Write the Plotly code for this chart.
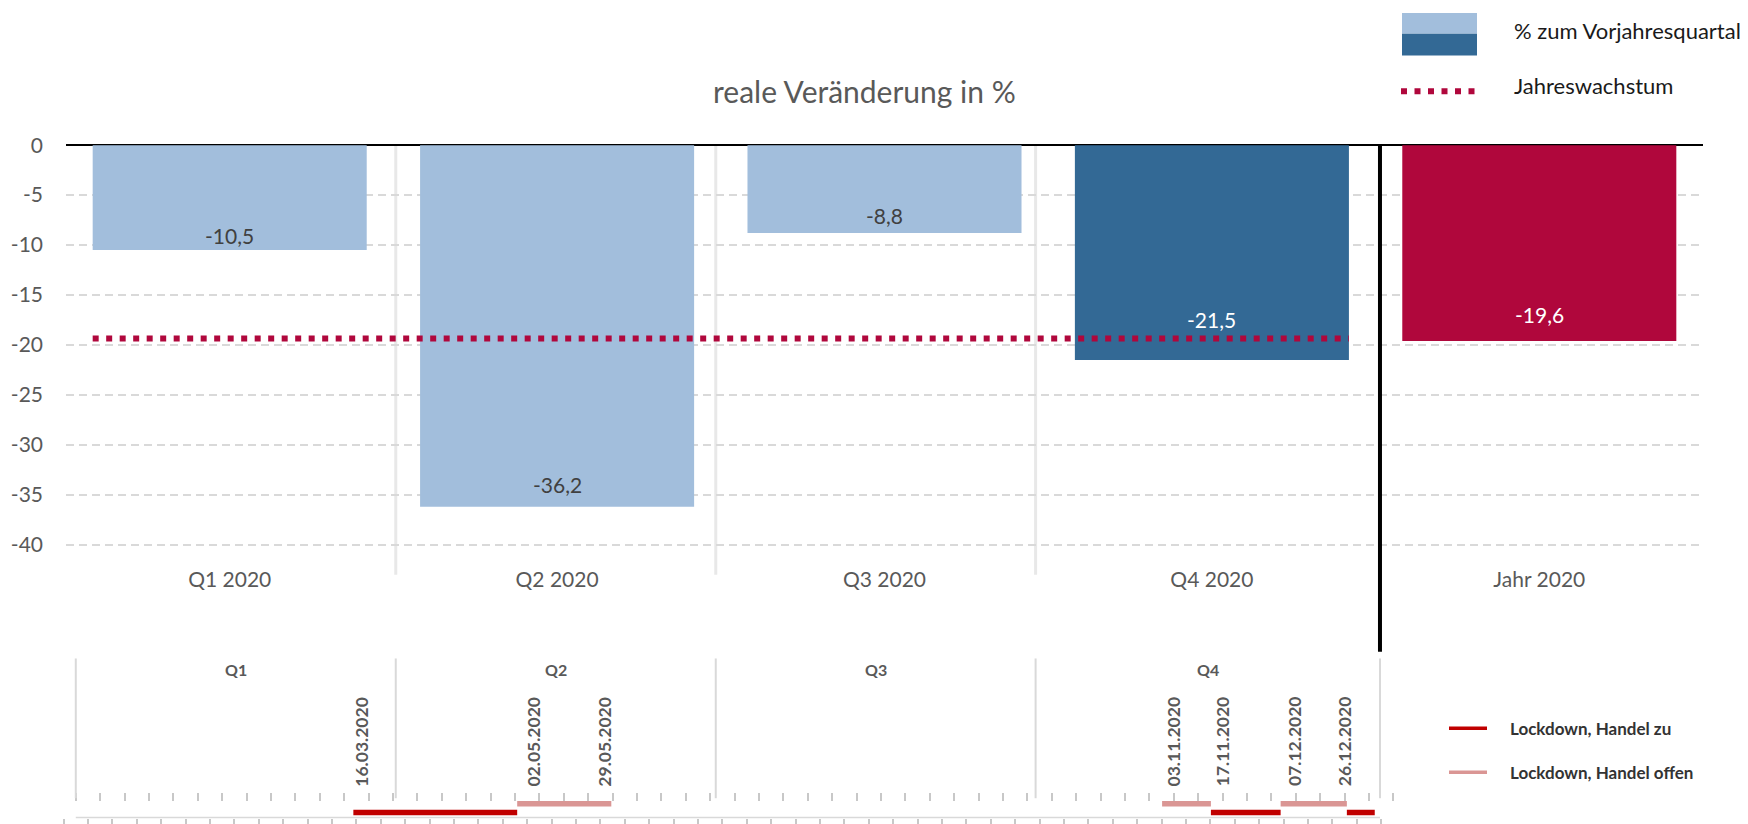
import plotly.graph_objects as go
from datetime import datetime, timedelta

# ---------------- data ----------------
categories = ["Q1 2020", "Q2 2020", "Q3 2020", "Q4 2020", "Jahr 2020"]
values = [-10.5, -36.2, -8.8, -21.5, -19.6]
value_labels = ["-10,5", "-36,2", "-8,8", "-21,5", "-19,6"]
annual_growth_line = -19.35
y_ticks = [0, -5, -10, -15, -20, -25, -30, -35, -40]

quarter_names = ["Q1", "Q2", "Q3", "Q4"]
quarter_bounds = ["2019-12-27 09:00", "2020-03-28 04:00", "2020-06-27 23:00",
                  "2020-09-27 17:00", "2021-01-04 12:00"]
date_labels = ["16.03.2020", "02.05.2020", "29.05.2020", "03.11.2020",
               "17.11.2020", "07.12.2020", "26.12.2020"]
closed_start = ["2020-03-16", "2020-11-17", "2020-12-26"]
closed_end = ["2020-05-02", "2020-12-07", "2021-01-03"]
open_start = ["2020-05-02", "2020-11-03", "2020-12-07"]
open_end = ["2020-05-29", "2020-11-17", "2020-12-26"]

# ---------------- style ----------------
W, H = 1748, 824
FONT = "Lato, sans-serif"
GREY = "#595959"
LIGHT = "#A2BEDC"
DARK = "#336995"
CRIMSON = "#B0073C"
RED = "#C00000"
PINK = "#DA9694"
bar_colors = [LIGHT, LIGHT, LIGHT, DARK, CRIMSON]
label_colors = ["#404040", "#404040", "#404040", "white", "white"]
label_shift = [15, 22, 18, 40, 26]
date_label_xshift = [8, 16, -7, 11, 11, 14, -3]
bargap = 0.163


def py(px):  # pixel row -> paper y
    return (H - px) / H


def pxx(px):  # pixel col -> paper x
    return px / W


fig = go.Figure()

# upper chart
xi = list(range(len(categories)))
fig.add_trace(go.Bar(x=xi, y=values, marker=dict(color=bar_colors, line=dict(width=0)),
                     width=1 - bargap, xaxis="x", yaxis="y", hoverinfo="skip"))
half = (1 - bargap) / 2
fig.add_trace(go.Scatter(x=[xi[0] - half, xi[3] + half], y=[annual_growth_line] * 2,
                         mode="lines", line=dict(color=CRIMSON, width=6, dash="6px,7.5px"),
                         xaxis="x", yaxis="y", hoverinfo="skip"))

annotations = []
for i, (v, t) in enumerate(zip(values, value_labels)):
    annotations.append(dict(x=xi[i], y=v, xref="x", yref="y", text=t, showarrow=False,
                            xanchor="center", yanchor="middle", yshift=label_shift[i],
                            font=dict(family=FONT, size=21, color=label_colors[i])))

# lower timeline
jan1 = datetime(2020, 1, 1)
px_per_day = 3.486
jan1_px = 91.9
dom_l, dom_r = 60, 1396
rng0 = jan1 + timedelta(days=(dom_l - jan1_px) / px_per_day)
rng1 = jan1 + timedelta(days=(dom_r - jan1_px) / px_per_day)
xr = [rng0.strftime("%Y-%m-%d %H:%M:%S"), rng1.strftime("%Y-%m-%d %H:%M:%S")]


def segs(starts, ends, level):
    xs, ys = [], []
    for s, e in zip(starts, ends):
        xs += [s, e, None]
        ys += [level, level, None]
    return xs, ys


cx, cy = segs(closed_start, closed_end, 0)
ox, oy = segs(open_start, open_end, 1)
fig.add_trace(go.Scatter(x=cx, y=cy, mode="lines", line=dict(color=RED, width=5.5),
                         xaxis="x3", yaxis="y3", hoverinfo="skip"))
fig.add_trace(go.Scatter(x=ox, y=oy, mode="lines", line=dict(color=PINK, width=5.5),
                         xaxis="x3", yaxis="y3", hoverinfo="skip"))
fig.add_trace(go.Scatter(x=[quarter_bounds[0]], y=[0], mode="markers", opacity=0,
                         xaxis="x4", yaxis="y3", hoverinfo="skip"))

qb = [datetime.strptime(q, "%Y-%m-%d %H:%M") for q in quarter_bounds]
for i, name in enumerate(quarter_names):
    mid = qb[i] + (qb[i + 1] - qb[i]) / 2
    annotations.append(dict(x=mid, y=py(672.5), xref="x3", yref="paper", text="<b>%s</b>" % name,
                            showarrow=False, xanchor="center", yanchor="middle",
                            font=dict(family=FONT, size=16, color=GREY)))
for lbl, xs in zip(date_labels, date_label_xshift):
    d = datetime.strptime(lbl, "%d.%m.%Y")
    annotations.append(dict(x=d, y=py(745.5), xref="x3", yref="paper", text="<b>%s</b>" % lbl,
                            textangle=-90, showarrow=False, xshift=xs,
                            xanchor="center", yanchor="middle",
                            font=dict(family=FONT, size=17.5, color=GREY)))

shapes = []
# upper separators
for q in quarter_bounds[1:4]:
    shapes.append(dict(type="line", xref="x3", yref="paper", x0=q, x1=q, y0=py(577), y1=py(142.7),
                       line=dict(color="#E8E8E8", width=3), layer="below"))
shapes.append(dict(type="line", xref="x3", yref="paper", x0=quarter_bounds[4], x1=quarter_bounds[4],
                   y0=py(655), y1=py(142.7), line=dict(color="black", width=4)))
# lower separators
for q in quarter_bounds:
    shapes.append(dict(type="line", xref="x3", yref="paper", x0=q, x1=q, y0=py(803), y1=py(661.7),
                       line=dict(color="#D9D9D9", width=2)))
shapes.append(dict(type="line", xref="x3", yref="paper", x0=quarter_bounds[0], x1=quarter_bounds[-1],
                   y0=py(822.5), y1=py(822.5), line=dict(color="#D9D9D9", width=1.5)))

# top legend
shapes.append(dict(type="rect", xref="paper", yref="paper", x0=pxx(1402), x1=pxx(1477),
                   y0=py(30), y1=py(9), fillcolor=LIGHT, line=dict(width=0)))
shapes.append(dict(type="rect", xref="paper", yref="paper", x0=pxx(1402), x1=pxx(1477),
                   y0=py(52), y1=py(30), fillcolor=DARK, line=dict(width=0)))
shapes.append(dict(type="line", xref="paper", yref="paper", x0=pxx(1401), x1=pxx(1475),
                   y0=py(88.3), y1=py(88.3), line=dict(color=CRIMSON, width=6, dash="6px,7.5px")))
annotations.append(dict(x=pxx(1512), y=py(26.5), xref="paper", yref="paper",
                        xanchor="left", yanchor="middle",
                        text="% zum Vorjahresquartal", showarrow=False,
                        font=dict(family=FONT, size=22, color="#1a1a1a")))
annotations.append(dict(x=pxx(1512), y=py(82), xref="paper", yref="paper",
                        xanchor="left", yanchor="middle",
                        text="Jahreswachstum", showarrow=False,
                        font=dict(family=FONT, size=22, color="#1a1a1a")))

# lower legend
for yy, col, txt in [(732.3, RED, "Lockdown, Handel zu"), (776.7, PINK, "Lockdown, Handel offen")]:
    shapes.append(dict(type="line", xref="paper", yref="paper", x0=pxx(1449), x1=pxx(1487),
                       y0=py(yy), y1=py(yy), line=dict(color=col, width=3.5)))
    annotations.append(dict(x=pxx(1508), y=py(yy), xref="paper", yref="paper",
                            xanchor="left", yanchor="middle",
                            text="<b>%s</b>" % txt, showarrow=False,
                            font=dict(family=FONT, size=17, color="#333333")))

# title
annotations.append(dict(x=pxx(864), y=py(88), xref="paper", yref="paper",
                        xanchor="center", yanchor="middle",
                        text="reale Veränderung in %", showarrow=False,
                        font=dict(family=FONT, size=30, color=GREY)))

week_ms = 7 * 86400000
fig.update_layout(
    width=W, height=H, margin=dict(l=0, r=0, t=0, b=0),
    paper_bgcolor="white", plot_bgcolor="white", showlegend=False,
    font=dict(family=FONT, color=GREY),
    bargap=bargap,
    xaxis=dict(domain=[pxx(66), pxx(1703)], range=[-0.5, 4.5], tickmode="array",
               tickvals=xi, ticktext=categories, showgrid=False, zeroline=False,
               showline=False, ticks="", ticklabelstandoff=10,
               tickfont=dict(family=FONT, size=21, color=GREY), anchor="y"),
    yaxis=dict(domain=[py(556.8), py(132.6)], range=[-41, 1], tickmode="array",
               tickvals=y_ticks, ticktext=[str(t) for t in y_ticks],
               showgrid=True, gridcolor="#D9D9D9", gridwidth=2, griddash="8px,5px",
               zeroline=True, zerolinecolor="black", zerolinewidth=2,
               showline=False, ticks="", ticklabelstandoff=22,
               tickfont=dict(family=FONT, size=21, color=GREY), anchor="x"),
    xaxis3=dict(domain=[pxx(dom_l), pxx(dom_r)], type="date", range=xr, anchor="y3",
                showgrid=False, zeroline=False, showline=False, showticklabels=False,
                ticks="outside", ticklen=6, tickwidth=1.5, tickcolor="#C8C8C8",
                tickmode="linear", tick0=(qb[0] + timedelta(days=3.5)).strftime("%Y-%m-%d %H:%M"),
                dtick=week_ms),
    xaxis4=dict(overlaying="x3", type="date", range=xr, anchor="free", position=py(797),
                side="bottom", showgrid=False, zeroline=False, showline=False,
                showticklabels=False, ticks="outside", ticklen=8, tickwidth=1.5,
                tickcolor="#C8C8C8", tickmode="linear", tick0=quarter_bounds[0], dtick=week_ms),
    yaxis3=dict(domain=[py(822.5), py(661.7)], range=[-0.556, 17.31], anchor="x3",
                showgrid=False, zeroline=False, showline=False, showticklabels=False, ticks=""),
    annotations=annotations, shapes=shapes,
)

fig.write_html("out.html", config={"displayModeBar": False},
               post_script="document.body.style.margin='0';document.body.style.overflow='hidden';")
